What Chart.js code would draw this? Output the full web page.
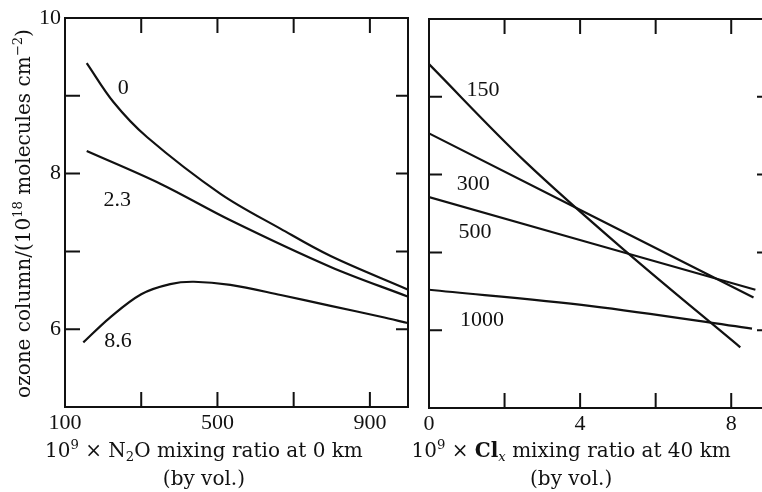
<!DOCTYPE html>
<html>
<head>
<meta charset="utf-8">
<script src="https://cdn.jsdelivr.net/npm/chart.js@4/dist/chart.umd.min.js"></script>
<style>
  html, body { margin: 0; padding: 0; background: #fff; overflow: hidden; }
  #wrap { position: relative; width: 762px; height: 492px; overflow: hidden; background: #fff; }
  canvas { position: absolute; top: 0; }
  #left { left: 0; }
  #right { left: 400px; }
</style>
</head>
<body>
<div id="wrap">
  <canvas id="left" width="420" height="492"></canvas>
  <canvas id="right" width="380" height="492"></canvas>
</div>
<script>
const NUM_FONT = '"Liberation Serif", "DejaVu Serif", serif';
const TEXT_FONT = '"DejaVu Serif", "Liberation Serif", serif';
const INK = '#111';

// ---- Left panel: ozone column vs N2O mixing ratio (curves labelled by Clx level) ----
const n2oCurveLabels = ['0', '2.3', '8.6'];
const n2oX_0   = [157, 227, 315, 508, 666, 797, 999];
const ozone_0  = [9.42, 8.92, 8.47, 7.74, 7.29, 6.94, 6.51];
const n2oX_23  = [157, 350, 534, 797, 999];
const ozone_23 = [8.29, 7.87, 7.40, 6.80, 6.42];
const n2oX_86  = [148, 218, 300, 376, 438, 534, 666, 797, 929, 999];
const ozone_86 = [5.83, 6.15, 6.45, 6.58, 6.61, 6.57, 6.44, 6.30, 6.16, 6.08];

// ---- Right panel: ozone column vs Clx mixing ratio (curves labelled by N2O level) ----
const clxCurveLabels = ['150', '300', '500', '1000'];
const clxX_150   = [0, 2.54, 5.24, 8.24];
const ozone_150  = [9.42, 8.17, 7.00, 5.78];
const clxX_300   = [0, 8.59];
const ozone_300  = [8.53, 6.42];
const clxX_500   = [0, 8.64];
const ozone_500  = [7.71, 6.52];
const clxX_1000  = [0, 4.3, 8.55];
const ozone_1000 = [6.52, 6.31, 6.02];

// ---- Axis ticks ----
const yTickLabels   = [6, 8, 10];
const yMinorTicks   = [6, 7, 8, 9];
const n2oTicks      = [100, 300, 500, 700, 900];
const n2oTickLabels = [100, 500, 900];
const n2oTickMarks  = [300, 500, 700, 900];
const clxTicks      = [0, 2, 4, 6, 8];
const clxTickLabels = [0, 4, 8];
const clxTickMarks  = [2, 4, 6, 8];

// Curve label anchors (data coordinates)
const n2oLabelX = [253, 237, 239];
const n2oLabelY = [9.10, 7.66, 5.85];
const clxLabelX = [1.43, 1.17, 1.22, 1.40];
const clxLabelY = [9.08, 7.87, 7.26, 6.13];

const pairs = (xs, ys) => xs.map((x, i) => ({ x, y: ys[i] }));
const lineSet = (data) => ({
  data, borderColor: INK, borderWidth: 2.2, pointRadius: 0,
  fill: false, tension: 0.35
});

// Rich text: runs with optional superscript / subscript / italic / bold
function drawRich(ctx, runs, cx, baseline, size) {
  const parts = runs.map(r => {
    const fs = (r.sup || r.sub) ? size * 0.66 : size;
    const font = `${r.italic ? 'italic ' : ''}${r.bold ? 'bold ' : ''}${fs}px ${TEXT_FONT}`;
    ctx.font = font;
    return { ...r, font, w: ctx.measureText(r.t).width };
  });
  const total = parts.reduce((s, p) => s + p.w, 0);
  let x = cx - total / 2;
  ctx.textAlign = 'left';
  ctx.textBaseline = 'alphabetic';
  for (const p of parts) {
    ctx.font = p.font;
    const dy = p.sup ? -size * 0.38 : p.sub ? size * 0.2 : 0;
    ctx.fillText(p.t, x, baseline + dy);
    x += p.w;
  }
}

// Frame, inward tick marks, curve labels and axis titles
const framePlugin = {
  id: 'frame',
  afterDraw(chart, args, o) {
    const { ctx, chartArea: a, scales } = chart;
    const xs = scales.x, ys = scales.y;
    ctx.save();
    ctx.strokeStyle = INK;
    ctx.fillStyle = INK;
    ctx.lineWidth = 2;
    ctx.strokeRect(a.left, a.top, a.right - a.left, a.bottom - a.top);
    ctx.beginPath();
    for (const v of o.xMarks) {
      const px = xs.getPixelForValue(v);
      ctx.moveTo(px, a.bottom); ctx.lineTo(px, a.bottom - 15);
      ctx.moveTo(px, a.top);    ctx.lineTo(px, a.top + 15);
    }
    for (const v of o.yMarks) {
      const py = ys.getPixelForValue(v);
      ctx.moveTo(a.left, py);  ctx.lineTo(a.left + o.leftLen, py);
      ctx.moveTo(a.right, py); ctx.lineTo(a.right - 12, py);
    }
    ctx.stroke();

    ctx.font = `22px ${NUM_FONT}`;
    ctx.textAlign = 'center';
    ctx.textBaseline = 'middle';
    o.curveLabels.forEach((t, i) => {
      ctx.fillText(t, xs.getPixelForValue(o.labelX[i]), ys.getPixelForValue(o.labelY[i]));
    });

    const cx = a.left + (a.right - a.left) * o.titleFrac;
    drawRich(ctx, o.title, cx, 457, 20);
    drawRich(ctx, [{ t: '(by vol.)' }], cx, 485, 20);

    if (o.yTitle) {
      ctx.translate(30, (a.top + a.bottom) / 2 + 1);
      ctx.rotate(-Math.PI / 2);
      drawRich(ctx, o.yTitle, 0, 0, 20);
    }
    ctx.restore();
  }
};

function baseOptions(cfg) {
  return {
    responsive: false,
    animation: false,
    devicePixelRatio: 1,
    layout: { padding: { top: cfg.top, right: cfg.right, left: 0, bottom: 0 } },
    plugins: {
      legend: { display: false },
      tooltip: { enabled: false },
      frame: cfg.frame
    },
    scales: {
      x: {
        type: 'linear', min: cfg.xMin, max: cfg.xMax,
        grid: { display: false, drawTicks: false },
        border: { display: false },
        afterFit: s => { s.height = cfg.xAxisH; },
        afterBuildTicks: s => { s.ticks = cfg.xTicks.map(v => ({ value: v })); },
        ticks: {
          autoSkip: false, maxRotation: 0, padding: 3,
          color: INK, font: { family: NUM_FONT, size: 22 },
          callback: v => cfg.xLabels.includes(v) ? String(v) : ''
        }
      },
      y: {
        type: 'linear', min: 5, max: 10,
        grid: { display: false, drawTicks: false },
        border: { display: false },
        afterFit: s => { s.width = cfg.yAxisW; },
        afterBuildTicks: s => { s.ticks = yTickLabels.map(v => ({ value: v })); },
        ticks: {
          display: cfg.yTicks, padding: 4,
          color: INK, font: { family: NUM_FONT, size: 22 },
          callback: v => String(v)
        }
      }
    }
  };
}

new Chart(document.getElementById('left'), {
  type: 'line',
  data: {
    datasets: [
      lineSet(pairs(n2oX_0, ozone_0)),
      lineSet(pairs(n2oX_23, ozone_23)),
      lineSet(pairs(n2oX_86, ozone_86))
    ]
  },
  options: baseOptions({
    top: 18, right: 12, xAxisH: 85, yAxisW: 65,
    xMin: 100, xMax: 1000, xTicks: n2oTicks, xLabels: n2oTickLabels, yTicks: true,
    frame: {
      xMarks: n2oTickMarks, yMarks: yMinorTicks, leftLen: 15,
      curveLabels: n2oCurveLabels, labelX: n2oLabelX, labelY: n2oLabelY,
      titleFrac: 0.405,
      title: [{ t: '10' }, { t: '9', sup: true }, { t: ' \u00d7 N' }, { t: '2', sub: true }, { t: 'O mixing ratio at 0 km' }],
      yTitle: [{ t: 'ozone column/(10' }, { t: '18', sup: true }, { t: ' molecules cm' }, { t: '\u22122', sup: true }, { t: ')' }]
    }
  }),
  plugins: [framePlugin]
});

new Chart(document.getElementById('right'), {
  type: 'line',
  data: {
    datasets: [
      lineSet(pairs(clxX_150, ozone_150)),
      lineSet(pairs(clxX_300, ozone_300)),
      lineSet(pairs(clxX_500, ozone_500)),
      lineSet(pairs(clxX_1000, ozone_1000))
    ]
  },
  options: baseOptions({
    top: 19, right: 11, xAxisH: 84, yAxisW: 29,
    xMin: 0, xMax: 9, xTicks: clxTicks, xLabels: clxTickLabels, yTicks: false,
    frame: {
      xMarks: clxTickMarks, yMarks: yMinorTicks, leftLen: 13,
      curveLabels: clxCurveLabels, labelX: clxLabelX, labelY: clxLabelY,
      titleFrac: 0.418,
      title: [{ t: '10' }, { t: '9', sup: true }, { t: ' \u00d7 ' }, { t: 'Cl', bold: true }, { t: 'x', sub: true, italic: true }, { t: ' mixing ratio at 40 km' }],
      yTitle: null
    }
  }),
  plugins: [framePlugin]
});
</script>
</body>
</html>
